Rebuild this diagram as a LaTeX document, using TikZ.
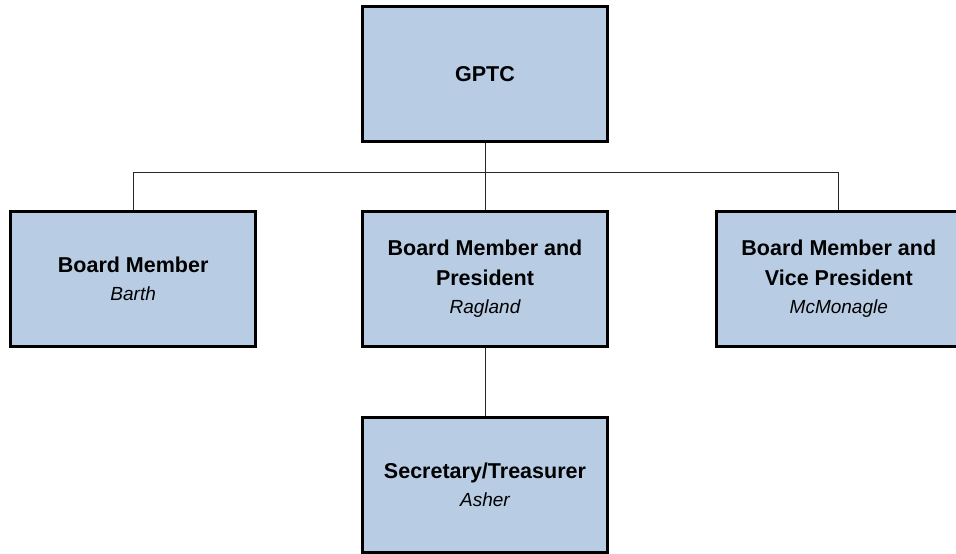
\documentclass[tikz,border=0pt]{standalone}
\usepackage{fontspec}
\setmainfont{Liberation Sans}
\usetikzlibrary{positioning}
\definecolor{boxblue}{HTML}{B8CCE4}
\tikzset{
post/.style={draw, line width=2.8pt, fill=boxblue, align=center,
  minimum width=245pt, minimum height=135pt, inner sep=0pt,
  font=\fontsize{21.5}{30}\selectfont\bfseries}, % one box of the chart
link/.style={line width=0.9pt, black!85}, % thin connector lines
node distance=67pt and 104pt, % gaps between the boxes
}
\newcommand{\who}[1]{{\normalfont\itshape\fontsize{19}{28}\selectfont #1}}

\begin{document}
\begin{tikzpicture}
  \useasboundingbox (-485pt,74pt) rectangle (471pt,-480pt);

  \node[post] (gptc) {GPTC};
  \node[post, below=of gptc] (pres) {Board Member and\\President\\[-2pt]\who{Ragland}};
  \node[post, left=of pres] (barth) {Board Member\\[-2pt]\who{Barth}};
  \node[post, right=106pt of pres] (vp) {Board Member and\\Vice President\\[-2pt]\who{McMonagle}};
  \node[post, below=68pt of pres] (sec) {Secretary/Treasurer\\[-2pt]\who{Asher}};

  \draw[link] (gptc.south) -- ++(0,-30pt) coordinate (bus);
  \draw[link] (barth.north) |- (bus) -| (vp.north);
  \draw[link] (bus) -- (pres.north);
  \draw[link] (pres.south) -- (sec.north);

\end{tikzpicture}
\end{document}
